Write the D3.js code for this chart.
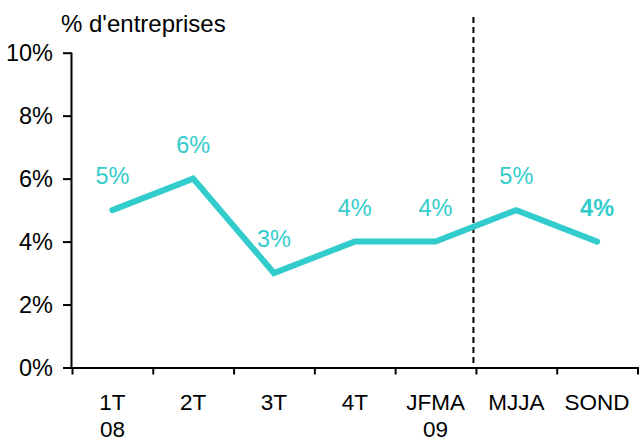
<!DOCTYPE html>
<html>
<head>
<meta charset="utf-8">
<script src="https://cdn.jsdelivr.net/npm/d3@7"></script>
<style>
  html, body { margin: 0; padding: 0; background: #fff; }
  svg { display: block; }
  text { font-family: "Liberation Sans", Arial, Helvetica, sans-serif; }
</style>
</head>
<body>
<svg id="chart" width="640" height="441"></svg>
<script>
const categories = ["1T", "2T", "3T", "4T", "JFMA", "MJJA", "SOND"];
const yearLabels = ["08", "", "", "", "09", "", ""];
const values = [5, 6, 3, 4, 4, 5, 4];
const yTicks = [0, 2, 4, 6, 8, 10];
const yTitle = "% d'entreprises";
const separatorAfter = "JFMA";

(function () {
const mLeft = 72, mRight = 637.5, mTop = 52.7, mBottom = 367.5;
const lineColor = "#33CCCC";
const ff = '"Liberation Sans", Arial, sans-serif';

const svg = d3.select("#chart");

const x = d3.scaleBand().domain(categories).range([mLeft, mRight]).padding(0);
const xEdges = d3.scaleLinear().domain([0, categories.length]).range([mLeft, mRight]);
const y = d3.scaleLinear().domain([0, 10]).range([mBottom, mTop]);

// Y axis
const yAxis = svg.append("g")
  .attr("transform", `translate(${mLeft},0)`)
  .call(d3.axisLeft(y).tickValues(yTicks).tickFormat(d => d + "%").tickSize(9).tickPadding(10));
yAxis.select(".domain").attr("d", `M-0.5,${mTop}V${mBottom}`).attr("stroke", "#000").attr("stroke-width", 2);
yAxis.selectAll(".tick line").attr("stroke", "#000").attr("stroke-width", 2);
yAxis.selectAll(".tick text").attr("font-size", 23.5).attr("fill", "#000")
  .attr("font-family", ff);

// X axis: edge ticks
const xAxisTicks = svg.append("g")
  .attr("transform", `translate(0,${mBottom})`)
  .call(d3.axisBottom(xEdges).tickValues(d3.range(categories.length + 1)).tickFormat("").tickSize(7));
xAxisTicks.select(".domain").attr("d", `M${mLeft - 1},0.5H${mRight + 1.5}`).attr("stroke", "#000").attr("stroke-width", 2);
xAxisTicks.selectAll(".tick line").attr("stroke", "#000").attr("stroke-width", 2);

// X axis: labels
const xAxisLabels = svg.append("g")
  .attr("transform", `translate(0,${mBottom})`)
  .call(d3.axisBottom(x).tickSize(0).tickFormat(""));
xAxisLabels.select(".domain").remove();
xAxisLabels.selectAll(".tick").each(function(d, i) {
  const g = d3.select(this);
  g.append("text")
    .attr("y", 42.5).attr("text-anchor", "middle")
    .attr("font-size", 22.5).attr("fill", "#000")
    .attr("font-family", ff)
    .text(d);
  if (yearLabels[i]) {
    g.append("text")
      .attr("y", 69).attr("text-anchor", "middle")
      .attr("font-size", 22.5).attr("fill", "#000")
      .attr("font-family", ff)
      .text(yearLabels[i]);
  }
});

// Title
svg.append("text")
  .attr("x", 61).attr("y", 31.5)
  .attr("font-size", 24).attr("fill", "#000")
  .text(yTitle);

// Separator dashed line
const sepX = xEdges(categories.indexOf(separatorAfter) + 1) - 2.5;
svg.append("line")
  .attr("x1", sepX).attr("x2", sepX)
  .attr("y1", 17).attr("y2", mBottom)
  .attr("stroke", "#000").attr("stroke-width", 2)
  .attr("stroke-dasharray", "6,4");

// Line
const line = d3.line()
  .x((d, i) => x(categories[i]) + x.bandwidth() / 2)
  .y(d => y(d));
svg.append("path")
  .datum(values)
  .attr("d", line)
  .attr("fill", "none")
  .attr("stroke", lineColor)
  .attr("stroke-width", 6)
  .attr("stroke-linejoin", "miter")
  .attr("stroke-linecap", "round");

// Data labels
svg.append("g").selectAll("text")
  .data(values)
  .join("text")
  .attr("x", (d, i) => x(categories[i]) + x.bandwidth() / 2)
  .attr("y", d => y(d) - 26)
  .attr("text-anchor", "middle")
  .attr("font-size", 23.5)
  .attr("font-weight", (d, i) => i === values.length - 1 ? "bold" : "normal")
  .attr("fill", lineColor)
  .text(d => d + "%");
})();
</script>
</body>
</html>
